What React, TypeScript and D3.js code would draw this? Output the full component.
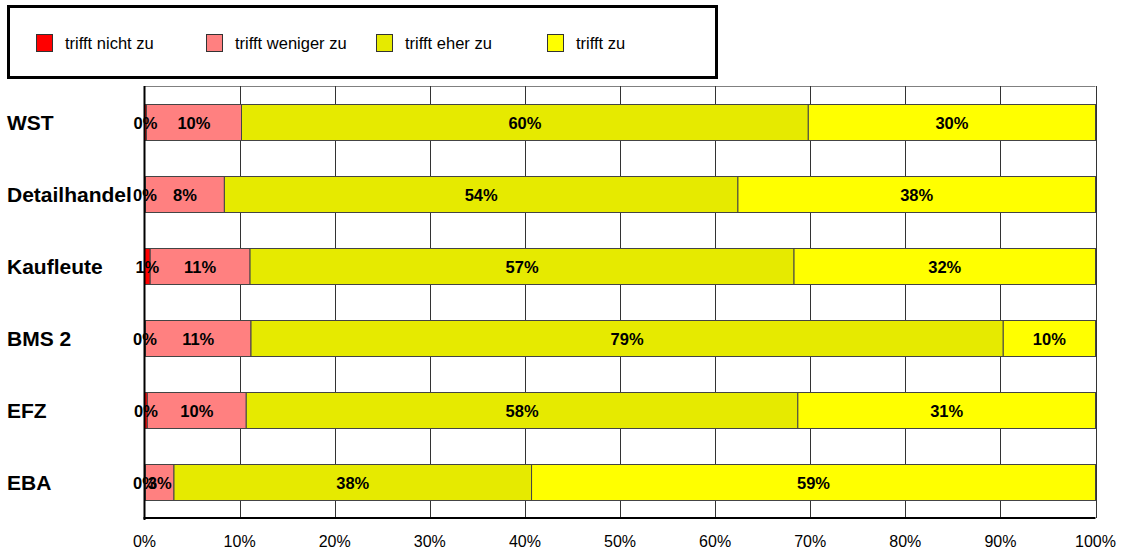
import React from "react";
import * as d3 from "d3";

const categories = ["WST", "Detailhandel", "Kaufleute", "BMS 2", "EFZ", "EBA"];
const seriesNames = ["trifft nicht zu", "trifft weniger zu", "trifft eher zu", "trifft zu"];
const nichtZu = [0.2, 0.1, 0.6, 0.1, 0.3, 0.1];
const wenigerZu = [10.0, 8.3, 10.5, 11.1, 10.4, 3.0];
const eherZu = [59.6, 54.0, 57.2, 79.1, 58.0, 37.6];
const zu = [30.2, 37.6, 31.7, 9.7, 31.3, 59.3];
const xTicks = [0, 10, 20, 30, 40, 50, 60, 70, 80, 90, 100];
const colors = ["#FF0000", "#FF8080", "#E6EA00", "#FFFF00"];

export default function App() {
  const W = 1121, H = 554;
  const left = 144.5, right = 1095.5, top = 86, bottom = 518;
  const x = d3.scaleLinear().domain([0, 100]).range([left, right]);
  const y = d3.scaleBand().domain(categories).range([top, bottom]).paddingInner(0.5).paddingOuter(0.25);
  const series = [nichtZu, wenigerZu, eherZu, zu];
  const stacked = categories.map((c, i) => {
    let acc = 0;
    return series.map((s, k) => {
      const x0 = acc;
      acc += s[i];
      return { c, k, x0, x1: acc, v: s[i] };
    });
  });
  const legendX = [36, 206, 376, 547];
  const font = "Arial, 'Liberation Sans', sans-serif";
  return (
    <svg width={W} height={H} style={{ position: "absolute", left: 0, top: 0, background: "#fff" }} fontFamily={font}>
      {/* legend */}
      <rect x={8.5} y={6.5} width={708} height={71} fill="#fff" stroke="#000" strokeWidth={3} />
      {seriesNames.map((n, k) => (
        <g key={n}>
          <rect x={legendX[k] + 0.5} y={34.5} width={16} height={17} fill={colors[k]} stroke="#333" strokeWidth={1} />
          <text x={legendX[k] + 29} y={48.5} fontSize={16.5} fill="#000">{n}</text>
        </g>
      ))}
      {/* grid */}
      <line x1={left} x2={right} y1={top + 0.5} y2={top + 0.5} stroke="#808080" strokeWidth={1} />
      {xTicks.slice(1).map(t => (
        <line key={t} x1={Math.round(x(t)) + 0.5} x2={Math.round(x(t)) + 0.5} y1={top} y2={bottom} stroke="#333" strokeWidth={1} />
      ))}
      {/* bars */}
      {stacked.map((row, i) => (
        <g key={categories[i]}>
          {row.map(d => (
            <rect key={d.k} x={x(d.x0)} y={y(d.c)! + 0.5} width={x(d.x1) - x(d.x0)} height={y.bandwidth()}
              fill={colors[d.k]} stroke="#444" strokeWidth={1} />
          ))}
          {row.map(d => (
            <text key={"t" + d.k} x={(x(d.x0) + x(d.x1)) / 2} y={y(d.c)! + y.bandwidth() / 2 + 6.5}
              textAnchor="middle" fontSize={16.5} fontWeight="bold" fill="#000">
              {Math.round(d.v) + "%"}
            </text>
          ))}
          <text x={7} y={y(categories[i])! + y.bandwidth() / 2 + 7.5} fontSize={21} fontWeight="bold" fill="#000">
            {categories[i]}
          </text>
        </g>
      ))}
      {/* axes */}
      <line x1={left} x2={left} y1={top} y2={bottom + 2} stroke="#000" strokeWidth={2} />
      <line x1={left - 1} x2={right} y1={bottom} y2={bottom} stroke="#000" strokeWidth={2} />
      {xTicks.map(t => (
        <text key={t} x={x(t)} y={547} textAnchor="middle" fontSize={16} fill="#000">{t + "%"}</text>
      ))}
    </svg>
  );
}
